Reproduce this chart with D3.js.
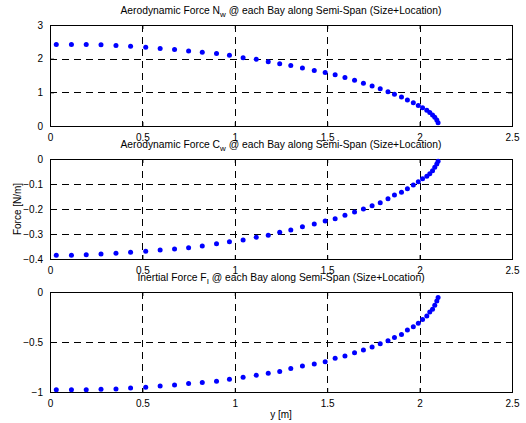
<!DOCTYPE html>
<html>
<head>
<meta charset="utf-8">
<script src="https://cdn.jsdelivr.net/npm/d3@7"></script>
<style>
    body { margin: 0; background: #fff; }
    text { font-family: "Liberation Sans", Arial, sans-serif; font-size: 10px; fill: #000; }
</style>
</head>
<body>
<svg id="chart"></svg>
<script>
// span station of each bay [m]
var spanPos = [0.034, 0.116, 0.196, 0.276, 0.357, 0.436, 0.518, 0.596, 0.674, 0.750,
               0.824, 0.901, 0.971, 1.045, 1.116, 1.181, 1.243, 1.303, 1.366, 1.430,
               1.489, 1.543, 1.596, 1.648, 1.696, 1.743, 1.787, 1.829, 1.864, 1.902,
               1.934, 1.966, 1.993, 2.016, 2.039, 2.055, 2.070, 2.082, 2.093, 2.100];

// aerodynamic normal force N_w
var normalForce = [2.42, 2.42, 2.42, 2.41, 2.39, 2.37, 2.34, 2.30, 2.27, 2.23,
                   2.19, 2.15, 2.10, 2.03, 1.98, 1.91, 1.85, 1.80, 1.72, 1.65,
                   1.59, 1.52, 1.44, 1.36, 1.27, 1.19, 1.11, 1.02, 0.94, 0.86,
                   0.77, 0.69, 0.61, 0.54, 0.47, 0.40, 0.33, 0.26, 0.18, 0.10];

// aerodynamic chord force C_w
var chordForce = [-0.385, -0.385, -0.383, -0.380, -0.377, -0.373, -0.369, -0.364, -0.360, -0.355,
                  -0.348, -0.339, -0.331, -0.324, -0.313, -0.305, -0.293, -0.284, -0.271, -0.260,
                  -0.248, -0.239, -0.225, -0.212, -0.200, -0.187, -0.175, -0.159, -0.144, -0.133,
                  -0.119, -0.104, -0.091, -0.079, -0.069, -0.059, -0.047, -0.033, -0.020, -0.009];

// inertial force F_I
var inertialForce = [-0.978, -0.978, -0.978, -0.972, -0.969, -0.959, -0.952, -0.939, -0.929, -0.915,
                     -0.905, -0.892, -0.872, -0.852, -0.832, -0.812, -0.796, -0.766, -0.740, -0.720,
                     -0.697, -0.663, -0.640, -0.607, -0.580, -0.550, -0.517, -0.488, -0.454, -0.425,
                     -0.381, -0.348, -0.312, -0.275, -0.239, -0.199, -0.172, -0.133, -0.090, -0.056];

var xTicks = [0, 0.5, 1, 1.5, 2, 2.5];
var normalTicks = [0, 1, 2, 3];
var chordTicks = [0, -0.1, -0.2, -0.3, -0.4];
var inertialTicks = [0, -0.5, -1];

var titleHead = ["Aerodynamic Force N", "Aerodynamic Force C", "Inertial Force F"];
var titleSub = ["w", "w", "I"];
var titleTail = " @ each Bay along Semi-Span (Size+Location)";

var width = 526, height = 423;
var left = 50, right = 512;

var panels = [
    { values: normalForce, ticks: normalTicks, domain: [0, 3], top: 25, bottom: 126 },
    { values: chordForce, ticks: chordTicks, domain: [-0.4, 0], top: 159, bottom: 259 },
    { values: inertialForce, ticks: inertialTicks, domain: [-1, 0], top: 292, bottom: 392 }
];

var svg = d3.select("#chart")
    .attr("width", width)
    .attr("height", height);

var x = d3.scaleLinear().domain([0, 2.5]).range([left, right]);

panels.forEach(function (p, i) {
    var y = d3.scaleLinear().domain(p.domain).range([p.bottom, p.top]);
    var g = svg.append("g");

    // dashed grid
    g.append("g").selectAll("line.vg")
        .data(xTicks.slice(1, -1))
        .join("line")
        .attr("x1", d => Math.round(x(d)) + 0.5).attr("x2", d => Math.round(x(d)) + 0.5)
        .attr("y1", p.top).attr("y2", p.bottom)
        .attr("stroke", "#000").attr("stroke-width", 1)
        .attr("stroke-dasharray", "7,5");
    g.append("g").selectAll("line.hg")
        .data(p.ticks.filter(t => t != p.domain[0] && t != p.domain[1]))
        .join("line")
        .attr("y1", d => Math.round(y(d)) + 0.5).attr("y2", d => Math.round(y(d)) + 0.5)
        .attr("x1", left).attr("x2", right)
        .attr("stroke", "#000").attr("stroke-width", 1)
        .attr("stroke-dasharray", "7,5");

    // axes with inward ticks
    var xAxis = d3.axisBottom(x).tickValues(xTicks).tickSizeInner(-4).tickSizeOuter(0).tickPadding(8)
        .tickFormat(d3.format("~g"));
    var xAxisTop = d3.axisTop(x).tickValues(xTicks).tickSizeInner(-4).tickSizeOuter(0).tickFormat("");
    var yAxis = d3.axisLeft(y).tickValues(p.ticks).tickSizeInner(-4).tickSizeOuter(0).tickPadding(7)
        .tickFormat(d3.format("~g"));
    var yAxisRight = d3.axisRight(y).tickValues(p.ticks).tickSizeInner(-4).tickSizeOuter(0).tickFormat("");

    [[xAxis, "translate(0," + p.bottom + ")"], [xAxisTop, "translate(0," + p.top + ")"],
     [yAxis, "translate(" + left + ",0)"], [yAxisRight, "translate(" + right + ",0)"]].forEach(function (a) {
        var ag = g.append("g").attr("transform", a[1]).call(a[0]);
        ag.select(".domain").remove();
        ag.selectAll(".tick line").attr("stroke", "#000");
        ag.selectAll("text").attr("font-size", 10).attr("font-family", null).attr("fill", "#000");
    });

    // box
    g.append("rect")
        .attr("x", left + 0.5).attr("y", p.top + 0.5)
        .attr("width", right - left).attr("height", p.bottom - p.top)
        .attr("fill", "none").attr("stroke", "#000").attr("stroke-width", 1);

    // points
    g.append("g").selectAll("circle")
        .data(spanPos.map((s, k) => ({ pos: s, val: p.values[k] })))
        .join("circle")
        .attr("cx", d => x(d.pos))
        .attr("cy", d => y(d.val))
        .attr("r", 2.5)
        .attr("fill", "#0000ff");

    // title
    var t = svg.append("text")
        .attr("x", (left + right) / 2)
        .attr("y", p.top - 11)
        .attr("text-anchor", "middle")
        .style("font-size", "10.3px");
    t.append("tspan").text(titleHead[i]);
    t.append("tspan").attr("dy", 3).style("font-size", "8px").text(titleSub[i]);
    t.append("tspan").attr("dy", -3).text(titleTail);
});

// axis labels
svg.append("text")
    .attr("transform", "translate(21,209) rotate(-90)")
    .attr("text-anchor", "middle")
    .text("Force [N/m]");
svg.append("text")
    .attr("x", (left + right) / 2)
    .attr("y", 418)
    .attr("text-anchor", "middle")
    .text("y [m]");
</script>
</body>
</html>
